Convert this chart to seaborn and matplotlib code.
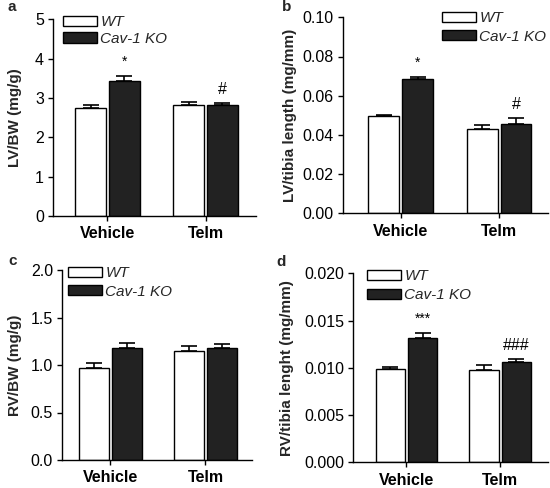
import numpy as np
import pandas as pd
import matplotlib
matplotlib.use('Agg')
import matplotlib.pyplot as plt
import seaborn as sns

# groups and genotypes
groups    = ['Vehicle', 'Telm']
genotypes = ['WT', 'Cav-1 KO']

# (a) LV/BW
lv_bw_wt      = [2.74, 2.81]
lv_bw_wt_err  = [0.08, 0.08]
lv_bw_ko      = [3.42, 2.82]
lv_bw_ko_err  = [0.14, 0.04]
# (b) LV/tibia length
lv_tl_wt      = [0.0497, 0.0430]
lv_tl_wt_err  = [0.0004, 0.0020]
lv_tl_ko      = [0.0686, 0.0457]
lv_tl_ko_err  = [0.0010, 0.0028]
# (c) RV/BW
rv_bw_wt      = [0.965, 1.150]
rv_bw_wt_err  = [0.053, 0.052]
rv_bw_ko      = [1.176, 1.182]
rv_bw_ko_err  = [0.056, 0.040]
# (d) RV/tibia length
rv_tl_wt      = [0.00988, 0.00974]
rv_tl_wt_err  = [0.00024, 0.00052]
rv_tl_ko      = [0.01316, 0.01058]
rv_tl_ko_err  = [0.00053, 0.00035]

# significance marks above the KO bars
marks_a = ['*', '#']
marks_b = ['*', '#']
marks_c = ['', '']
marks_d = ['***', '###']

sns.set_style('ticks')
plt.rcParams['font.family'] = ['Liberation Sans', 'DejaVu Sans']
plt.rcParams['axes.linewidth'] = 1.0

fig = plt.figure(figsize=(5.5, 4.88), dpi=100)

W, H = 550.0, 488.0
def px_axes(left, right, top, bottom):
    return fig.add_axes([left / W, 1 - bottom / H, (right - left) / W, (bottom - top) / H])

panels = [
    dict(letter='a', box=(53, 256, 19.3, 216), xlim=(-0.556, 1.515),
         wt=lv_bw_wt, wte=lv_bw_wt_err, ko=lv_bw_ko, koe=lv_bw_ko_err, marks=marks_a,
         ylim=(0, 5), ticks=np.arange(0, 5.01, 1), fmt='%d',
         ylabel='LV/BW (mg/g)', ylab_x=15, leg=(63, 15.5), lsp=0.15, letter_xy=(12, 7)),
    dict(letter='b', box=(342.7, 548, 17.3, 213.3), xlim=(-0.587, 1.497),
         wt=lv_tl_wt, wte=lv_tl_wt_err, ko=lv_tl_ko, koe=lv_tl_ko_err, marks=marks_b,
         ylim=(0, 0.10), ticks=np.arange(0, 0.1001, 0.02), fmt='%.2f',
         ylabel='LV/tibia length (mg/mm)', ylab_x=290, leg=(442, 11), lsp=0.3, letter_xy=(287, 7)),
    dict(letter='c', box=(62, 252, 270, 460), xlim=(-0.51, 1.49),
         wt=rv_bw_wt, wte=rv_bw_wt_err, ko=rv_bw_ko, koe=rv_bw_ko_err, marks=marks_c,
         ylim=(0, 2.0), ticks=np.arange(0, 2.01, 0.5), fmt='%.1f',
         ylabel='RV/BW (mg/g)', ylab_x=15, leg=(68, 266), lsp=0.3, letter_xy=(13, 261)),
    dict(letter='d', box=(353, 548, 273.3, 462.3), xlim=(-0.57, 1.51),
         wt=rv_tl_wt, wte=rv_tl_wt_err, ko=rv_tl_ko, koe=rv_tl_ko_err, marks=marks_d,
         ylim=(0, 0.020), ticks=np.arange(0, 0.02001, 0.005), fmt='%.3f',
         ylabel='RV/tibia lenght (mg/mm)', ylab_x=287, leg=(367, 269.5), lsp=0.3, letter_xy=(281, 262)),
]

for p in panels:
    left, right, top, bottom = p['box']
    ax = px_axes(left, right, top, bottom)

    df = pd.DataFrame({
        'group': groups * 2,
        'genotype': [genotypes[0]] * 2 + [genotypes[1]] * 2,
        'value': list(p['wt']) + list(p['ko']),
    })
    sns.barplot(data=df, x='group', y='value', hue='genotype', order=groups,
                hue_order=genotypes, palette=['white', '#222222'],
                edgecolor='black', linewidth=1.0, width=0.69, gap=0.09,
                errorbar=None, saturation=1, ax=ax)

    # upper error bars from bar geometry
    errs = [p['wte'], p['koe']]
    for cont, err in zip(ax.containers, errs):
        xs = [b.get_x() + b.get_width() / 2 for b in cont]
        ys = [b.get_height() for b in cont]
        ax.errorbar(xs, ys, yerr=[np.zeros(len(err)), err], fmt='none',
                    ecolor='black', elinewidth=1.2, capsize=6, capthick=1.2, zorder=1)

    # significance marks above KO bars
    ko_cont = ax.containers[1]
    for b, e, m in zip(ko_cont, p['koe'], p['marks']):
        if not m:
            continue
        star = '*' in m
        ax.annotate(m, (b.get_x() + b.get_width() / 2, b.get_height() + e),
                    xytext=(0, 7 if star else 6), textcoords='offset pixels',
                    ha='center', va='bottom', fontsize=10 if star else 11.5,
                    color='black')

    ax.set_xlim(*p['xlim'])
    ax.set_ylim(*p['ylim'])
    ax.set_yticks(p['ticks'])
    ax.set_yticklabels([p['fmt'] % t for t in p['ticks']], fontsize=11.5)
    ax.set_xticks([0, 1])
    ax.set_xticklabels(groups, fontsize=11.5, fontweight='bold')
    ax.tick_params(direction='out', length=3.5, width=1.0, colors='black', pad=3)
    ax.tick_params(axis='x', pad=4)
    ax.set_xlabel('')
    ax.set_ylabel(p['ylabel'], fontsize=11, fontweight='bold', va='center')
    ax.yaxis.set_label_coords((p['ylab_x'] - left) / (right - left), 0.5)
    sns.despine(ax=ax)
    for s in ['left', 'bottom']:
        ax.spines[s].set_color('black')

    handles, labels = ax.get_legend_handles_labels()
    if ax.get_legend() is not None:
        ax.get_legend().remove()
    lx, ly = p['leg']
    ax.legend(handles, labels, loc='upper left', bbox_to_anchor=(lx / W, 1 - ly / H),
              bbox_transform=fig.transFigure, frameon=False, borderpad=0,
              borderaxespad=0, handlelength=2.2, handleheight=0.65,
              handletextpad=0.25, labelspacing=p['lsp'],
              prop=dict(size=11, style='italic'))

    lx, ly = p['letter_xy']
    fig.text(lx / W, 1 - ly / H, p['letter'], fontsize=11, fontweight='bold',
             ha='center', va='center')

fig.savefig('out.png', dpi=100)
